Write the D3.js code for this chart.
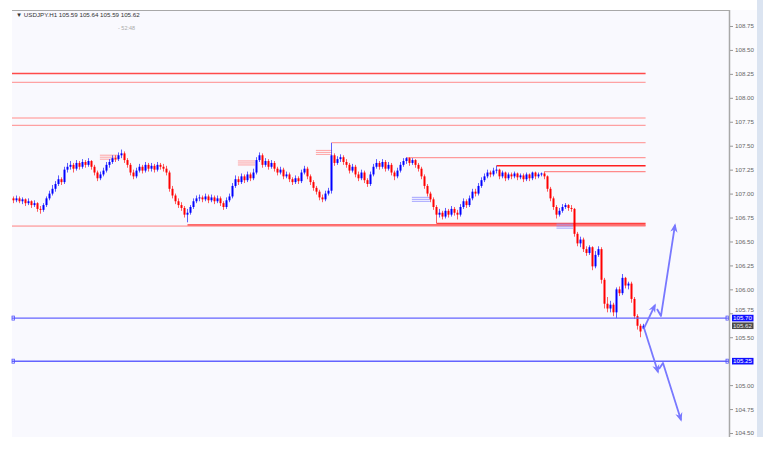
<!DOCTYPE html>
<html><head><meta charset="utf-8">
<script src="https://cdn.jsdelivr.net/npm/d3@7"></script>
<style>html,body{margin:0;padding:0;background:#fff;overflow:hidden}</style>
</head><body><svg id="c" width="770" height="453"></svg>
<script>
const symbol = "USDJPY.H1";
const headerValues = ["105.59", "105.64", "105.59", "105.62"];
const timerText = "- 52:48";

const opens = [
106.95,106.93,106.95,106.92,106.94,106.90,106.92,106.88,106.90,106.84,
106.83,106.88,106.95,107.00,107.05,107.10,107.15,107.12,107.25,107.28,
107.30,107.26,107.32,107.28,107.33,107.30,107.34,107.28,107.22,107.16,
107.20,107.24,107.30,107.33,107.37,107.36,107.40,107.42,107.35,107.30,
107.22,107.18,107.24,107.28,107.24,107.30,107.26,107.29,107.25,107.30,
107.28,107.26,107.22,107.05,106.98,106.92,106.88,106.85,106.78,106.80,
106.86,106.92,106.95,106.96,106.94,106.97,106.93,106.96,106.92,106.95,
106.90,106.86,106.93,106.97,107.08,107.15,107.12,107.18,107.14,107.20,
107.16,107.22,107.35,107.40,107.30,107.34,107.28,107.32,107.26,107.22,
107.25,107.18,107.20,107.15,107.12,107.16,107.13,107.22,107.26,107.18,
107.12,107.06,107.02,106.96,106.94,107.00,107.03,107.40,107.32,107.36,
107.38,107.33,107.30,107.24,107.28,107.20,107.16,107.22,107.14,107.10,
107.20,107.28,107.32,107.28,107.33,107.26,107.30,107.22,107.18,107.24,
107.30,107.34,107.37,107.32,107.35,107.30,107.26,107.18,107.08,107.00,
106.94,106.86,106.78,106.80,106.76,106.82,106.78,106.84,106.80,106.78,
106.86,106.92,106.88,106.95,107.02,107.00,107.08,107.14,107.18,107.22,
107.20,107.24,107.25,107.18,107.22,107.16,107.20,107.18,107.21,107.17,
107.19,107.15,107.20,107.16,107.22,107.18,107.20,107.21,107.18,107.05,
106.95,106.86,106.78,106.82,106.86,106.88,106.85,106.84,106.58,106.48,
106.52,106.42,106.38,106.44,106.24,106.36,106.42,106.10,105.85,105.80,
105.84,105.76,106.00,105.96,106.12,106.04,106.06,105.90,105.72,105.62,
105.59];
const closes = [
106.93,106.95,106.92,106.94,106.90,106.92,106.88,106.90,106.84,106.83,
106.88,106.95,107.00,107.05,107.10,107.15,107.12,107.25,107.28,107.30,
107.26,107.32,107.28,107.33,107.30,107.34,107.28,107.22,107.16,107.20,
107.24,107.30,107.33,107.37,107.36,107.40,107.42,107.35,107.30,107.22,
107.18,107.24,107.28,107.24,107.30,107.26,107.29,107.25,107.30,107.28,
107.26,107.22,107.05,106.98,106.92,106.88,106.85,106.78,106.80,106.86,
106.92,106.95,106.96,106.94,106.97,106.93,106.96,106.92,106.95,106.90,
106.86,106.93,106.97,107.08,107.15,107.12,107.18,107.14,107.20,107.16,
107.22,107.35,107.40,107.30,107.34,107.28,107.32,107.26,107.22,107.25,
107.18,107.20,107.15,107.12,107.16,107.13,107.22,107.26,107.18,107.12,
107.06,107.02,106.96,106.94,107.00,107.03,107.40,107.32,107.36,107.38,
107.33,107.30,107.24,107.28,107.20,107.16,107.22,107.14,107.10,107.20,
107.28,107.32,107.28,107.33,107.26,107.30,107.22,107.18,107.24,107.30,
107.34,107.37,107.32,107.35,107.30,107.26,107.18,107.08,107.00,106.94,
106.86,106.78,106.80,106.76,106.82,106.78,106.84,106.80,106.78,106.86,
106.92,106.88,106.95,107.02,107.00,107.08,107.14,107.18,107.22,107.20,
107.24,107.25,107.18,107.22,107.16,107.20,107.18,107.21,107.17,107.19,
107.15,107.20,107.16,107.22,107.18,107.20,107.21,107.18,107.05,106.95,
106.86,106.78,106.82,106.86,106.88,106.85,106.84,106.58,106.48,106.52,
106.42,106.38,106.44,106.24,106.36,106.42,106.10,105.85,105.80,105.84,
105.76,106.00,105.96,106.12,106.04,106.06,105.90,105.72,105.62,105.56,
105.62];
const highs = [
106.97,106.98,106.97,106.96,106.95,106.95,106.93,106.93,106.91,106.87,
106.90,106.97,107.03,107.09,107.13,107.19,107.17,107.28,107.32,107.34,
107.32,107.35,107.34,107.36,107.35,107.37,107.35,107.30,107.24,107.23,
107.27,107.33,107.36,107.40,107.40,107.43,107.46,107.44,107.37,107.32,
107.25,107.27,107.31,107.30,107.33,107.32,107.32,107.31,107.33,107.32,
107.31,107.29,107.24,107.08,107.00,106.95,106.91,106.87,106.84,106.88,
106.95,106.98,106.99,106.98,107.00,106.99,106.99,106.98,106.98,106.97,
106.92,106.96,107.00,107.11,107.19,107.18,107.21,107.20,107.23,107.22,
107.26,107.38,107.43,107.42,107.37,107.36,107.35,107.34,107.28,107.28,
107.27,107.23,107.22,107.17,107.19,107.18,107.25,107.29,107.28,107.20,
107.14,107.08,107.04,106.99,107.03,107.06,107.53,107.42,107.39,107.41,
107.40,107.36,107.32,107.31,107.30,107.23,107.25,107.24,107.16,107.23,
107.31,107.36,107.34,107.36,107.35,107.33,107.32,107.24,107.27,107.33,
107.37,107.38,107.38,107.37,107.36,107.32,107.28,107.20,107.10,107.02,
106.96,106.88,106.84,106.82,106.85,106.84,106.87,106.86,106.83,106.89,
106.95,106.94,106.98,107.05,107.05,107.11,107.17,107.21,107.25,107.24,
107.27,107.29,107.26,107.24,107.23,107.22,107.22,107.23,107.22,107.21,
107.21,107.22,107.21,107.23,107.23,107.22,107.22,107.23,107.19,107.07,
106.97,106.88,106.85,106.89,106.90,106.89,106.88,106.85,106.60,106.55,
106.54,106.45,106.46,106.45,106.40,106.45,106.44,106.12,105.92,105.88,
105.86,106.02,106.03,106.16,106.13,106.08,106.08,105.92,105.74,105.64,
105.64];
const lows = [
106.90,106.91,106.90,106.89,106.87,106.88,106.85,106.86,106.81,106.79,
106.81,106.86,106.93,106.98,107.02,107.08,107.09,107.10,107.22,107.25,
107.22,107.24,107.25,107.26,107.27,107.28,107.25,107.19,107.13,107.14,
107.18,107.22,107.27,107.31,107.33,107.34,107.37,107.32,107.27,107.19,
107.15,107.16,107.22,107.21,107.22,107.23,107.23,107.22,107.23,107.25,
107.23,107.19,107.02,106.95,106.89,106.85,106.82,106.75,106.70,106.78,
106.84,106.90,106.92,106.91,106.92,106.90,106.91,106.89,106.90,106.87,
106.83,106.84,106.91,106.95,107.06,107.09,107.10,107.11,107.12,107.13,
107.14,107.20,107.33,107.27,107.28,107.25,107.26,107.23,107.19,107.20,
107.15,107.16,107.12,107.09,107.10,107.10,107.11,107.20,107.15,107.09,
107.03,106.99,106.93,106.91,106.92,106.98,107.00,107.29,107.30,107.33,
107.30,107.27,107.21,107.22,107.17,107.13,107.14,107.11,107.07,107.08,
107.18,107.26,107.25,107.26,107.23,107.24,107.19,107.14,107.16,107.22,
107.28,107.31,107.29,107.30,107.27,107.23,107.15,107.05,106.97,106.91,
106.83,106.69,106.75,106.73,106.74,106.75,106.76,106.77,106.73,106.76,
106.84,106.85,106.86,106.93,106.97,106.98,107.06,107.12,107.16,107.17,
107.18,107.21,107.15,107.16,107.13,107.14,107.15,107.16,107.14,107.15,
107.12,107.13,107.13,107.14,107.15,107.16,107.18,107.15,107.02,106.92,
106.83,106.74,106.76,106.80,106.84,106.82,106.81,106.55,106.45,106.44,
106.39,106.35,106.36,106.20,106.22,106.34,106.06,105.80,105.76,105.76,
105.72,105.70,105.93,105.94,106.01,106.00,105.86,105.69,105.58,105.50,
105.59];

// axis tick labels (105.25 sits under the 105.25 price box, so it is not shown)
const yTicks = [104.50,104.75,105.00,105.50,105.75,106.00,106.25,106.50,106.75,107.00,107.25,107.50,107.75,108.00,108.25,108.50,108.75];

// resistance / support lines drawn on the chart: price and first bar (-0.5 = from chart start)
const levelPrices    = [108.254, 108.162, 107.790, 107.713, 107.533, 107.375, 107.291, 107.229, 106.690, 106.672, 106.661];
const levelStartBars = [-0.5, -0.5, -0.5, -0.5, 106, 131, 161, 177, 141, 58, -0.5];
const levelEndBar = 210.7;

// horizontal blue lines with price labels
const bluePrices = [105.70, 105.25];
const blueLabels = ["105.70", "105.25"];
const lastPrice = 105.62;
const lastLabel = "105.62";

// short triple-line price markers: [startBar, endBar, price]
const redMarkers  = [[28.8, 34.8, 107.38], [74.8, 80.5, 107.32], [100.8, 106.2, 107.43]];
const blueMarkers = [[132.8, 138.8, 106.94], [181.0, 186.5, 106.66]];

// scenario arrows, in [bar, price]
const arrowPaths = [
  [[210.17, 105.596], [213.83, 105.836]],
  [[214.5, 105.795], [215.83, 105.722], [220.5, 106.672]],
  [[210.17, 105.596], [214.83, 105.137]],
  [[215.17, 105.168], [216.5, 105.231], [222.5, 104.636]]
];

const svg = d3.select("#c");
const W = 770, H = 453;
const plotL = 12, plotR = 729, plotT = 10, plotB = 437;
const FONT = "Liberation Sans, Arial, sans-serif";

svg.append("rect").attr("width", W).attr("height", H).attr("fill", "#ffffff");
svg.append("rect").attr("x", plotL).attr("y", plotT).attr("width", plotR - plotL).attr("height", plotB - plotT).attr("fill", "#f9f9fe");
svg.append("rect").attr("x", plotR).attr("y", plotT).attr("width", 28).attr("height", plotB - plotT).attr("fill", "#fbfbfe");
svg.append("rect").attr("x", 757).attr("y", 0).attr("width", 6).attr("height", plotB).attr("fill", "#dbe4f1");

const x = d3.scaleLinear().domain([0, 210]).range([13.5, 643.5]);
const y = d3.scaleLinear().domain([104.5, 108.75]).range([433, 26]);

// top border
svg.append("line").attr("x1", plotL).attr("x2", plotR).attr("y1", plotT + 0.5).attr("y2", plotT + 0.5).attr("stroke", "#a8a8a8").attr("stroke-width", 1);

// header
svg.append("text").attr("x", 16).attr("y", 16.5).attr("font-family", FONT).attr("font-size", 6.2).attr("fill", "#333")
  .text("\u25BC " + symbol + "  " + headerValues.join(" "));
svg.append("text").attr("x", 118).attr("y", 30).attr("font-family", FONT).attr("font-size", 5.5).attr("fill", "#aaa").text(timerText);

// level lines
const levelStyles = [
  {c: "#ff4a4a", w: 1.3}, {c: "#ff8c8c", w: 1}, {c: "#ffb0b0", w: 1.6}, {c: "#ff8a8a", w: 1},
  {c: "#ffa3a3", w: 1.2}, {c: "#ff9a9a", w: 1.2}, {c: "#ff2020", w: 1.4}, {c: "#ff8a8a", w: 1.2},
  {c: "#ff4040", w: 1.3}, {c: "#ff3a3a", w: 1.5}, {c: "#ff8080", w: 1}
];
const gLevels = svg.append("g");
levelPrices.forEach((p, k) => {
  gLevels.append("line")
    .attr("x1", levelStartBars[k] < 0 ? plotL : x(levelStartBars[k]))
    .attr("x2", x(levelEndBar))
    .attr("y1", y(p)).attr("y2", y(p))
    .attr("stroke", levelStyles[k].c).attr("stroke-width", levelStyles[k].w);
});

// short markers
function drawMarkers(list, color) {
  list.forEach(m => {
    [-2, 0, 2].forEach(off => {
      svg.append("line").attr("x1", x(m[0])).attr("x2", x(m[1]))
        .attr("y1", y(m[2]) + off).attr("y2", y(m[2]) + off)
        .attr("stroke", color).attr("stroke-width", 0.9);
    });
  });
}
drawMarkers(redMarkers, "#ff9a9a");
drawMarkers(blueMarkers, "#9a9aff");

// candles
const bars = d3.range(closes.length).map(i => ({i, o: opens[i], h: highs[i], l: lows[i], c: closes[i]}));
const gC = svg.append("g");
gC.selectAll("line.w").data(bars).join("line")
  .attr("x1", d => x(d.i)).attr("x2", d => x(d.i))
  .attr("y1", d => y(d.h)).attr("y2", d => y(d.l))
  .attr("stroke", d => d.c >= d.o ? "#2a2aff" : "#ff2a2a").attr("stroke-width", 1).attr("opacity", 0.75);
gC.selectAll("rect.b").data(bars).join("rect")
  .attr("x", d => x(d.i) - 1).attr("width", 2)
  .attr("y", d => y(Math.max(d.o, d.c)))
  .attr("height", d => Math.max(1, Math.abs(y(d.o) - y(d.c))))
  .attr("fill", d => d.c >= d.o ? "#0000ff" : "#ff0000");

// blue horizontal lines
bluePrices.forEach(p => {
  svg.append("line").attr("x1", plotL).attr("x2", plotR).attr("y1", y(p)).attr("y2", y(p))
    .attr("stroke", "#6464ff").attr("stroke-width", 1.4);
  svg.append("rect").attr("x", plotL).attr("y", y(p) - 2).attr("width", 2.5).attr("height", 4)
    .attr("fill", "none").attr("stroke", "#5050ff").attr("stroke-width", 0.8);
  svg.append("rect").attr("x", plotR - 3).attr("y", y(p) - 2).attr("width", 2.5).attr("height", 4)
    .attr("fill", "none").attr("stroke", "#5050ff").attr("stroke-width", 0.8);
});

// arrows
const defs = svg.append("defs");
defs.append("marker").attr("id", "ah").attr("viewBox", "0 0 10 10").attr("refX", 8).attr("refY", 5)
  .attr("markerWidth", 9).attr("markerHeight", 9).attr("markerUnits", "userSpaceOnUse").attr("orient", "auto")
  .append("path").attr("d", "M0,1 L10,5 L0,9 L3,5 Z").attr("fill", "#7878ff");
const lineGen = d3.line().x(d => x(d[0])).y(d => y(d[1]));
arrowPaths.forEach(pts => {
  svg.append("path").attr("d", lineGen(pts)).attr("fill", "none")
    .attr("stroke", "#7878ff").attr("stroke-width", 1.8).attr("stroke-linejoin", "round")
    .attr("marker-end", "url(#ah)");
});

// right axis
svg.append("line").attr("x1", plotR + 0.5).attr("x2", plotR + 0.5).attr("y1", plotT).attr("y2", plotB)
  .attr("stroke", "#a8a8a8").attr("stroke-width", 1.5);
const axisG = svg.append("g").attr("transform", `translate(${plotR + 1},0)`)
  .call(d3.axisRight(y).tickValues(yTicks).tickFormat(d3.format(".2f")).tickSize(3).tickPadding(2));
axisG.select(".domain").remove();
axisG.selectAll(".tick line").attr("stroke", "#999");
axisG.selectAll(".tick text").attr("font-family", FONT).attr("font-size", 6.2).attr("fill", "#666");
// the 105.75 label is pushed up by the 105.70 price box, as in the terminal
axisG.selectAll(".tick").filter(d => d === 105.75).select("text").attr("dy", "-0.25em");

// price labels on axis
function axisLabel(p, txt, bg, fg) {
  svg.append("rect").attr("x", plotR + 3).attr("y", y(p) - 3.3).attr("width", 21.5).attr("height", 6.6).attr("fill", bg);
  svg.append("text").attr("x", plotR + 4).attr("y", y(p) + 2.2).attr("font-family", FONT)
    .attr("font-size", 6.2).attr("fill", fg).text(txt);
}
bluePrices.forEach((p, k) => axisLabel(p, blueLabels[k], "#1010ff", "#ffffff"));
axisLabel(lastPrice, lastLabel, "#4a4a4a", "#e8e8e8");
</script></body></html>
